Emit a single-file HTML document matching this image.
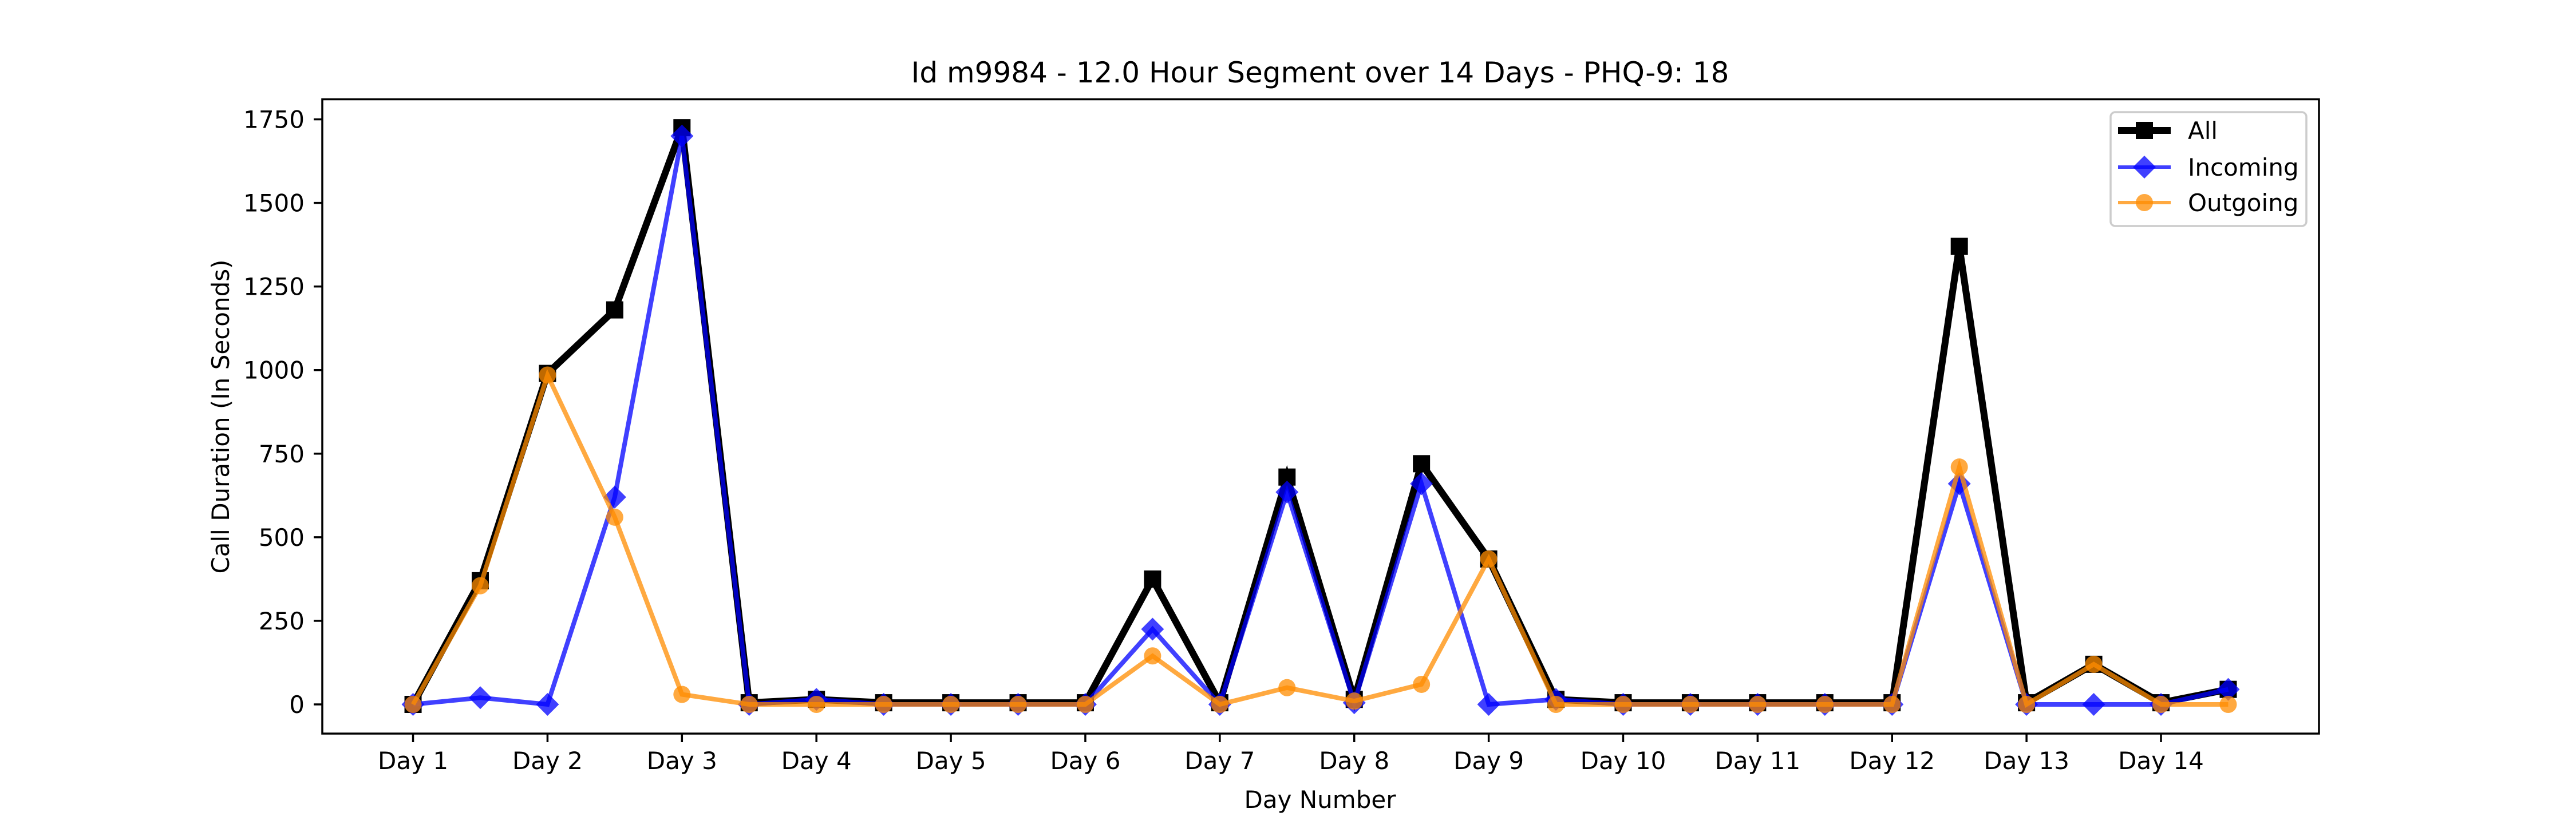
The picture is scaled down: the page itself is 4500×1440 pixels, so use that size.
<!DOCTYPE html>
<html><head><meta charset="utf-8"><style>
html,body{margin:0;padding:0;background:#fff;}
svg{display:block;font-family:"DejaVu Sans","Liberation Sans",sans-serif;}
</style></head><body>
<svg id="chart" width="4500" height="1440" viewBox="0 0 4500 1440">
<rect x="0" y="0" width="4500" height="1440" fill="#fff"/>
<text x="2306" y="144" font-size="50" text-anchor="middle">Id m9984 - 12.0 Hour Segment over 14 Days - PHQ-9: 18</text>
<g id="grid"></g>
<g id="series"></g>
<rect x="563" y="173.5" width="3488" height="1108.5" fill="none" stroke="#000" stroke-width="3.5"/>
<text x="2306" y="1412" font-size="42" text-anchor="middle">Day Number</text>
<text transform="translate(400,728) rotate(-90)" font-size="42" text-anchor="middle">Call Duration (In Seconds)</text>
<g>
<rect x="3687" y="196" width="342" height="199" rx="8" fill="#fff" fill-opacity="0.8" stroke="#ccc" stroke-width="3.5"/>
<g>
<line x1="3700" y1="228" x2="3792" y2="228" stroke="#000" stroke-width="12"/>
<rect x="3731" y="213" width="30" height="30" fill="#000"/>
<text x="3822" y="243" font-size="42">All</text></g>
<g>
<line x1="3700" y1="292" x2="3792" y2="292" stroke="#0000ff" stroke-opacity="0.75" stroke-width="6"/>
<polygon points="3746,272 3766,292 3746,312 3726,292" fill="#0000ff" fill-opacity="0.75"/>
<text x="3822" y="307" font-size="42">Incoming</text></g>
<g>
<line x1="3700" y1="354" x2="3792" y2="354" stroke="#ff8c00" stroke-opacity="0.75" stroke-width="6"/>
<circle cx="3746" cy="354" r="15" fill="#ff8c00" fill-opacity="0.75"/>
<text x="3822" y="369" font-size="42">Outgoing</text></g>
</g>
</svg>
<script>
const dayLabels = ["Day 1","Day 2","Day 3","Day 4","Day 5","Day 6","Day 7","Day 8","Day 9","Day 10","Day 11","Day 12","Day 13","Day 14"];
const yTicks = [0,250,500,750,1000,1250,1500,1750];
const allValues = [0,370,990,1180,1725,5,15,5,5,5,5,375,5,680,15,720,435,15,5,5,5,5,5,1370,5,120,5,45];
const incomingValues = [0,20,0,620,1700,0,15,0,0,0,0,225,0,635,5,660,0,15,0,0,0,0,0,660,0,0,0,45];
const outgoingValues = [0,355,985,560,30,0,0,0,0,0,0,145,0,50,10,60,435,0,0,0,0,0,0,710,0,120,0,0];

const L=563,R=4051,T=173.5,B=1282;
const xMin=-1.35,xMax=28.35,yMin=-87.3,yMax=1810;
const xs=i=>L+(i-xMin)/(xMax-xMin)*(R-L);
const ys=v=>B-(v-yMin)/(yMax-yMin)*(B-T);
const NS="http://www.w3.org/2000/svg";
const grid=document.getElementById('grid'), ser=document.getElementById('series');
function mk(tag,attrs,parent){const e=document.createElementNS(NS,tag);for(const k in attrs)e.setAttribute(k,attrs[k]);parent.appendChild(e);return e;}

yTicks.forEach(v=>{
  const y=ys(v);
  const t=mk('line',{x1:L-15,x2:L,y1:y,y2:y,stroke:'#000','stroke-width':3.5},grid);
  
  
  const tx=mk('text',{x:L-31,y:y+15,'font-size':42,'text-anchor':'end'},grid);
  tx.textContent=v;
  
  
});
dayLabels.forEach((lab,k)=>{
  const x=xs(k*2);
  const t=mk('line',{x1:x,x2:x,y1:B,y2:B+15,stroke:'#000','stroke-width':3.5},grid);
  
  
  const tx=mk('text',{x:x,y:B+62,'font-size':42,'text-anchor':'middle'},grid);
  tx.textContent=lab;
  
  
});

function drawSeries(vals,name,color,op,lw,marker){
  const g=mk('g',{},ser);
  
  
  const pts=vals.map((v,i)=>xs(i)+','+ys(v)).join(' ');
  const pl=mk('polyline',{points:pts,fill:'none',stroke:color,'stroke-opacity':op,'stroke-width':lw,'stroke-linejoin':'miter'},g);
  
  
  vals.forEach((v,i)=>{
    const x=xs(i),y=ys(v);let m;
    if(marker==='s') m=mk('rect',{x:x-15,y:y-15,width:30,height:30,fill:color,'fill-opacity':op},g);
    else if(marker==='d') m=mk('polygon',{points:`${x},${y-20} ${x+20},${y} ${x},${y+20} ${x-20},${y}`,fill:color,'fill-opacity':op},g);
    else m=mk('circle',{cx:x,cy:y,r:15,fill:color,'fill-opacity':op},g);
    
    
  });
}
drawSeries(allValues,'all','#000',1,12,'s');
drawSeries(incomingValues,'incoming','#0000ff',0.75,8,'d');
drawSeries(outgoingValues,'outgoing','#ff8c00',0.75,8,'o');
</script>
</body></html>
